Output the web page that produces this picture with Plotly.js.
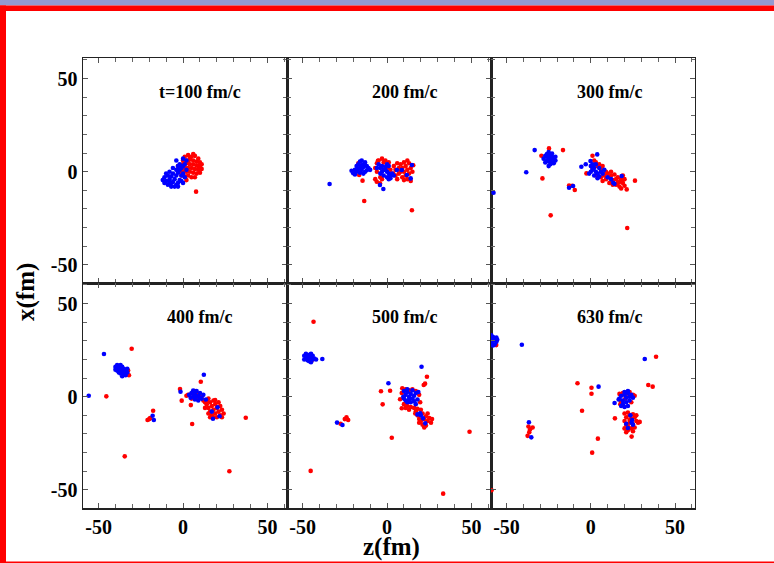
<!DOCTYPE html>
<html>
<head>
<meta charset="utf-8">
<script src="https://cdn.plot.ly/plotly-3.0.1.min.js"></script>
<style>
  html, body { margin: 0; padding: 0; background: #fff; overflow: hidden; }
  #plot { width: 774px; height: 563px; }
</style>
</head>
<body>
<div id="plot"></div>
<script>
// Nucleon positions [z, x] in fm at each time step; red and blue species.
const red100 = [[1,8],[3,9],[5,8],[7,8.5],[9,7],[2,6],[4,6.5],[6,6],[8,5.5],[10,5],[0,4],[2,4.5],[4,4],[6,4],[8,3.5],[10,3],[11,1.5],[-1,2],[1,2.5],[3,2],[5,2],[7,1.5],[9,1],[-2,0],[0,0.5],[2,0],[4,0],[6,-0.5],[8,-1],[10,-0.5],[-1,-2],[1,-2.5],[3,-2],[5,-3],[7,-3],[2,-4.5],[4,7.5],[6,9.5],[9,3],[3,5],[7.7,-10.7],[0,6],[11,4],[-3,3]];
const blue100 = [[-11,-3],[-12,-4.5],[-10,-5],[-9,-2],[-8,-4],[-9,-7],[-7,-6],[-7,-2.5],[-6,-1],[-5,-4],[-6,-5.5],[-4,-7],[-5,-8],[-3,-6],[-2,-4.5],[-4,-2],[-3,-0.5],[-2,1],[-1,-2],[0,-1],[-1,2],[0,3],[1,4],[2,6],[-4,1],[-3,3],[-8,0],[-10,-1],[-6,2],[-1,-5],[-3,-8],[1,-3],[2,1],[-7,-8],[-2,4],[-11,-6],[0,-6],[-8,-6],[-4,6],[0,7]];

const red200 = [[-16.5,-1.8],[-14.5,-4.8],[-17,4.5],[-13.5,-15.7],[14.7,-20.7],[-7,2],[-6,4.5],[-5,6],[-3,7],[-1,6],[1,5],[-5.4,5.9],[-6,0],[-4,-3],[-6.1,-5.4],[-4.2,-6.2],[-7,-4],[-2,5],[0,2],[-3,-4],[2,1],[4,3],[5,1],[5,-2],[6,4.5],[7,2],[7,-1],[8,0],[8,4],[9,-3],[9,2],[10,5],[10,0],[11,3],[11,-2],[12,1],[12,-4],[13,4.5],[13,-1],[14,2],[14,-5],[15,0],[15.5,3.5],[6,-4],[10,-4.5],[3.6,-1],[12,6]];
const blue200 = [[-21,0.5],[-19,1],[-18,3],[-17,4],[-16,5.5],[-15,6],[-14,4],[-13,5],[-12,3],[-11,2],[-16,2],[-15,1],[-14,2.5],[-17,1.5],[-18,0],[-16,-0.5],[-13,0],[-12,0.8],[-14,-1],[-19,-1.5],[-20,-0.8],[-15,3.5],[-10,1],[-34,-6.6],[-5,4],[-4,2],[-3,3],[-2,1],[-1,2.5],[0,0],[1,-1],[2,-2],[-3,0],[-4,-1],[-2,-2],[0,-3],[1,-4],[2,-3.5],[-1,1],[0,4],[-6,2],[3,-1],[-4.2,-7.1],[-2.2,-9.3],[1,3],[5.8,0.9],[8.7,0.9],[11.7,-1.8],[14,-3.6],[14.7,3.6],[4,-2]];

const red300 = [[-24.8,12.5],[-16.5,11.6],[-29.3,8.6],[-28.7,-3.6],[-12.9,-7.4],[-11,-7.5],[-9.5,-9.8],[-23.8,-23.4],[21.6,-30.2],[-21.5,6],[1,8.6],[-2.6,-0.9],[26.2,-4.8],[21.3,-9.5],[2,6],[3,5],[4,3],[5,4],[6,1],[7,3],[8,-2],[9,0],[9,-4],[10,-1],[11,-3],[11,-6],[12,-2],[13,-4.5],[14,-1.5],[15,-4],[15,-7],[16,-3],[17,-5.5],[17,-8],[18,-4],[19,-6],[19,-2],[20,-7.5],[18,-9],[16,-6],[13,-7],[7,-5],[3,-2],[1,2],[6,-3],[20,-4],[12,0]];
const blue300 = [[-28,7],[-27,8.5],[-26,9.5],[-25,10.5],[-24,9],[-23,8],[-22,7],[-21,6],[-24,6.5],[-25,5.5],[-26,6],[-27,5],[-23,5],[-24,4],[-25,3],[-22,4.5],[-26,8],[-23,9.8],[-21,8],[-25,7.5],[-33.3,11.6],[-38.3,-0.3],[-57.7,-11.3],[-12.9,-8.6],[-10.5,-7.7],[3.8,9.3],[-0.2,5.7],[-5.6,2.7],[0,3],[1,1],[2,2],[3,0],[4,-1],[2,-2],[1,4],[3,4],[5,2],[5,-2.5],[6,0],[7,-1],[4,-3.5],[8,1],[0,0],[13.3,-5.9],[18.3,-2.3],[10,-3],[12,-4],[14,-6.5],[-1,-1],[-3,4]];

const red400 = [[-30.4,25.7],[-45.4,0.2],[-34.5,-32],[27.4,-40],[37.1,-11.3],[5.4,-14.6],[10.5,8],[-21,-12.5],[-19.5,-11.5],[-17.7,-7.5],[-20,-12],[-32.5,14],[-33,12],[-32,11.5],[-34,12.5],[-1.8,4.1],[-0.8,-2.1],[4.6,-4.5],[3,1],[5,-1],[7,3],[9,-1],[11,0],[12,-2],[13,-3],[14,-2],[15,-1],[8,2],[2,0.5],[6,1.5],[14,-4],[15,-6],[16,-3],[16,-8],[17,-5],[17,-10],[18,-2],[18,-7],[19,-4],[19,-9],[20,-6],[20,-11],[21,-3],[21,-8],[22,-10],[22,-5],[23,-11],[24,-9],[15,-9],[18,-11],[19,-1.8],[23,-7],[13,-6],[16,-11]];
const blue400 = [[-46.8,22.9],[-55.8,0.5],[12.3,11.8],[-40,16],[-39,17],[-38,15.5],[-37,17],[-36,16],[-35,15],[-34,14],[-33,13],[-39,14],[-38,13],[-37,12.5],[-36,13.5],[-35,12],[-34,11.5],[-40,14.5],[-37,14.5],[-36,11],[-33,15],[-18,-10.2],[-17.3,-12.5],[3.6,1],[5,2],[6,0],[7,1.5],[8,3],[9,0.5],[10,2],[11,-1],[12,1],[13.5,-1.5],[7,-1.5],[9,-2],[6,3.3],[10,-0.5],[4.5,-0.5],[-1.5,2.7],[8,0],[20.4,-5.7],[17.7,-11.8],[17,-8],[21.6,-10.5]];

const red500 = [[-46,21],[-44.5,19.5],[-43.5,40.2],[-45.2,-39.8],[2.8,-22],[33.2,-52],[48.8,-18.8],[-3.6,2.9],[1.8,3.2],[-2.6,-4.1],[23.6,10.7],[21.7,6.3],[22.5,7],[-24,-11],[-23,-12.5],[-27.5,-14.5],[-25,-12],[9,4.5],[11,4],[13,3.5],[15,4],[17,3],[19,1],[8.7,2],[7.7,-1.4],[8.7,-6.2],[10,-4],[12,-5],[14,-5.5],[16,-6],[18,-6.5],[19.6,-3],[11,-6],[13,-7],[17,-8],[18,-10],[19,-12],[20,-13],[21,-9],[22,-12],[23,-10.5],[24,-13],[25,-11.5],[26,-14],[19,-14],[21,-15],[23,-15.5],[24,-9],[20,-7],[16.7,-9],[22,-16.5],[26.6,-12]];
const blue500 = [[-49,22],[-48,23],[-47,21],[-46,22.5],[-45,21],[-44,20],[-47,19.5],[-46,19],[-45,23],[-48,20.5],[-44,22],[-43,20.5],[-42,20],[-45,18.5],[-38.3,20.2],[-47.5,21.5],[-49,20],[-29.6,-13.9],[-26.4,-15.2],[0.8,7.2],[20.4,16.1],[10,3],[11,1],[12,2.5],[13,0],[14,1.5],[15,-1],[16,0.5],[17,2],[18,-1.5],[10,-1],[11,-2],[12,-3],[13,-1.5],[14,-3],[16,-2.5],[17,-4],[9.6,0],[15,3.5],[18.5,2.5],[12,4],[19.6,-8.9],[21.3,-11.6],[22.6,-14.3],[20,-10],[18,-9.5]];

const red630 = [[-56.1,27.7],[38.7,21.4],[34.1,6.3],[36.7,5.4],[-7.9,7.2],[0.4,4.8],[0.4,1.6],[-5.2,-7.5],[4.2,-22.5],[0.8,-30],[14.3,-11.6],[24.2,-21.4],[-58.9,-50.2],[-37,-16],[-34.5,-16.5],[-36.5,-19],[-37.5,-21],[-36,-17.5],[17,1.5],[19,2],[21,1.5],[23,2.5],[25,1],[18,-2.5],[24,-3],[17.5,-4],[20.5,-1],[26,0.5],[20,-9],[21,-11],[22,-8.5],[23,-10],[24,-12],[25,-9.5],[26,-11],[27,-13],[28,-14],[29,-13.5],[20,-13],[21,-15],[22,-16],[23,-14],[25,-15],[26,-16.5],[24,-17],[22,-18],[20,-17],[21,-19],[27,-10],[25,-18.5],[23,-12.5]];
const blue630 = [[-59,33],[-58,32],[-57,31],[-58,30],[-56,29.5],[-57,28],[-59,29],[-55.5,30.5],[-58,27.5],[-56,31.8],[-59.2,31],[-40.9,27.9],[32,20.2],[4.6,5.4],[14.1,-3.4],[-36.7,-13.7],[-35.3,-21.8],[17,-1],[18,0.5],[19,-2],[20,1],[21,-0.5],[22,2],[23,0],[24,1],[19,-4],[20,-5.5],[22,-5],[21,-3],[18,-5],[16.5,-1.5],[23,-2],[25,-0.5],[20,2.5],[22,3],[24.2,-13.9],[23.5,-10],[21,-14.5],[25,-15],[24.5,-12.5],[22,-16.8]];

const panelLabels = ['t=100 fm/c', '200 fm/c', '300 fm/c', '400 fm/c', '500 fm/c', '630 fm/c'];
const redSets = [red100, red200, red300, red400, red500, red630];
const blueSets = [blue100, blue200, blue300, blue400, blue500, blue630];
const majorTicks = [-50, 0, 50];
const majorLabels = ['-50', '0', '50'];
const minorTicks = [-60, -40, -30, -20, -10, 10, 20, 30, 40, 60];

// Figure geometry in pixels
const W = 774, H = 563;
const colEdges = [83, 287, 491, 694.5];
const rowEdges = [58, 283, 508];
const px = v => v / W;
const py = v => 1 - v / H;

const serifBold = (size) => ({ family: 'Liberation Serif, Times New Roman, serif', size: size, color: '#000', weight: 'bold' });

const traces = [];
const layout = {
  width: W, height: H,
  margin: { l: 0, r: 0, t: 0, b: 0 },
  paper_bgcolor: '#fff', plot_bgcolor: '#fff',
  showlegend: false,
  annotations: [],
  shapes: []
};

for (let i = 0; i < 6; i++) {
  const col = i % 3, row = Math.floor(i / 3);
  const n = i + 1;
  const xa = 'x' + (n === 1 ? '' : n), ya = 'y' + (n === 1 ? '' : n);
  [[redSets[i], '#ff0000'], [blueSets[i], '#0000ff']].forEach(([pts, color]) => {
    traces.push({
      type: 'scatter', mode: 'markers',
      x: pts.map(p => p[0]), y: pts.map(p => p[1]),
      xaxis: xa, yaxis: ya,
      marker: { color: color, size: 4.6, line: { width: 0 } },
      hoverinfo: 'skip', cliponaxis: true
    });
  });
  const common = {
    showline: true, mirror: 'ticks', linecolor: '#222', linewidth: 1.5,
    ticks: 'inside', ticklen: 5, tickwidth: 1, tickcolor: '#555',
    tickmode: 'array', tickvals: majorTicks, ticktext: majorLabels,
    minor: { tickmode: 'array', tickvals: minorTicks, ticks: 'inside', ticklen: 4, tickwidth: 1, tickcolor: '#666' },
    showgrid: false, zeroline: false,
    tickfont: serifBold(20),
    fixedrange: true
  };
  layout['xaxis' + (n === 1 ? '' : n)] = Object.assign({}, common, {
    domain: [px(colEdges[col]), px(colEdges[col + 1])],
    anchor: ya, range: [-59.2, 61.5],
    showticklabels: row === 1
  });
  layout['yaxis' + (n === 1 ? '' : n)] = Object.assign({}, common, {
    domain: [py(rowEdges[row + 1]), py(rowEdges[row])],
    anchor: xa, range: [-59.7, 61.0],
    showticklabels: col === 0
  });
  const centers = [200, 404, 609];
  layout.annotations.push({
    xref: 'paper', yref: 'paper',
    x: px(centers[col]), y: py(row === 0 ? 92 : 317),
    text: panelLabels[i], showarrow: false,
    font: serifBold(18), xanchor: 'center', yanchor: 'middle'
  });
}

// Axis titles
layout.annotations.push({
  xref: 'paper', yref: 'paper', x: px(391), y: py(547),
  text: 'z(fm)', showarrow: false, font: serifBold(25),
  xanchor: 'center', yanchor: 'middle'
});
layout.annotations.push({
  xref: 'paper', yref: 'paper', x: px(26), y: py(292),
  text: 'x(fm)', showarrow: false, font: serifBold(25), textangle: -90,
  xanchor: 'center', yanchor: 'middle'
});

// Page frame: band on top, red rule below it, red left edge and bottom rule
const rect = (x0, y0, x1, y1, color) => ({
  type: 'rect', xref: 'paper', yref: 'paper',
  x0: px(x0), x1: px(x1), y0: py(y1), y1: py(y0),
  line: { width: 0 }, fillcolor: color, layer: 'above'
});
layout.shapes.push(rect(0, 0, W, 5.5, '#9399d1'));
layout.shapes.push(rect(0, 5.5, W, 11, '#ff0000'));
layout.shapes.push(rect(0, 5.5, 6, H, '#ff0000'));
layout.shapes.push(rect(0, 561.5, W, H, '#ff0000'));

Plotly.newPlot('plot', traces, layout, { staticPlot: true, displayModeBar: false });
</script>
</body>
</html>
